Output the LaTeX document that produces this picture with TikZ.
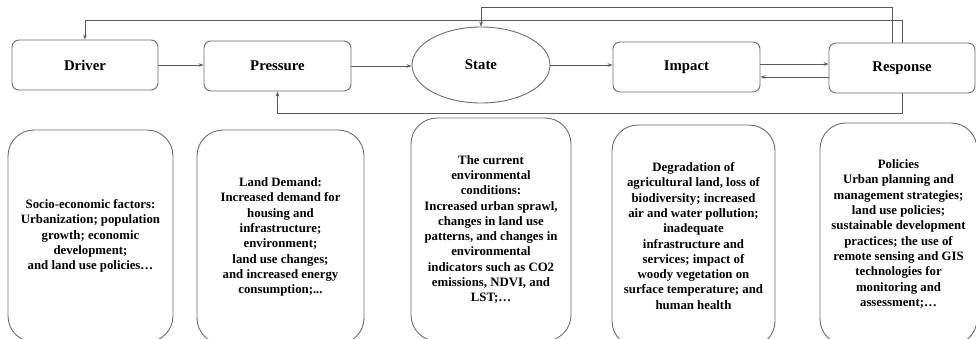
\documentclass[tikz,border=0pt]{standalone}
\usepackage{fontspec}
\setmainfont{Liberation Serif}
\usetikzlibrary{arrows.meta,shapes.geometric}

\begin{document}
\begin{tikzpicture}[x=1pt, y=-1pt, line width=0.9pt,
    box/.style={draw=gray!85!black, rounded corners=7pt, minimum width=146pt,
        minimum height=50pt, font=\fontsize{14.8}{17}\selectfont\bfseries},
    info/.style={draw=gray!85!black, rounded corners=26pt, align=center, inner sep=0pt,
        font=\fontsize{12.8}{15.3}\selectfont\bfseries},
    arr/.style={draw=gray!70!black, -{Stealth[length=5pt,width=3.6pt]}}]
    \path[use as bounding box, clip] (0,0) rectangle (976,338);

    % DPSIR chain
    \node[box] (driver) at (85,65) {Driver};
    \node[box, minimum width=147pt] (pressure) at (277.5,66) {Pressure};
    \node[ellipse, draw=gray!85!black, minimum width=138pt, minimum height=76pt,
        font=\fontsize{14.8}{17}\selectfont\bfseries] (state) at (481,65) {State};
    \node[box, minimum width=147pt] (impact) at (686.5,67) {Impact};
    \node[box] (response) at (902,68) {Response};

    \draw[arr] (driver.east) -- (driver.east -| pressure.west);
    \draw[arr] (pressure.east) -- (pressure.east -| state.west);
    \draw[arr] (state.east) -- (state.east -| impact.west);
    \draw[arr] ([yshift=3pt]impact.east) -- ([yshift=3pt]impact.east -| response.west);
    \draw[arr] ([yshift=-9pt]response.west) -- ([yshift=-9pt]response.west -| impact.east);

    % feedback loops
    \draw[arr] ([xshift=-10pt]response.north) -- ++(0,-35) -| (state.north);
    \draw[arr] (response.north) -- ++(0,-22) -| (driver.north);
    \draw[arr] (response.south) -- ++(0,20) -| (pressure.south);

    % descriptions
    \node[info, minimum width=165pt, minimum height=212pt] (drivertxt) at (90.5,236)
        {Socio-economic factors:\\Urbanization; population\\growth; economic\\development;\\and land use policies…};
    \node[info, minimum width=167pt, minimum height=214pt] (pressuretxt) at (280.5,237)
        {Land Demand:\\Increased demand for\\housing and\\infrastructure;\\environment;\\land use changes;\\and increased energy\\consumption;...};
    \node[info, minimum width=160pt, minimum height=223pt] (statetxt) at (491,229.5)
        {The current\\environmental\\conditions:\\Increased urban sprawl,\\changes in land use\\patterns, and changes in\\environmental\\indicators such as CO2\\emissions, NDVI, and\\LST;…};
    \node[info, minimum width=163pt, minimum height=222pt] (impacttxt) at (693.5,236)
        {Degradation of\\agricultural land, loss of\\biodiversity; increased\\air and water pollution;\\inadequate\\infrastructure and\\services; impact of\\woody vegetation on\\surface temperature; and\\human health};
    \node[info, minimum width=157pt, minimum height=222pt] (responsetxt) at (898.5,234)
        {Policies\\Urban planning and\\management strategies;\\land use policies;\\sustainable development\\practices; the use of\\remote sensing and GIS\\technologies for\\monitoring and\\assessment;…};
\end{tikzpicture}
\end{document}
